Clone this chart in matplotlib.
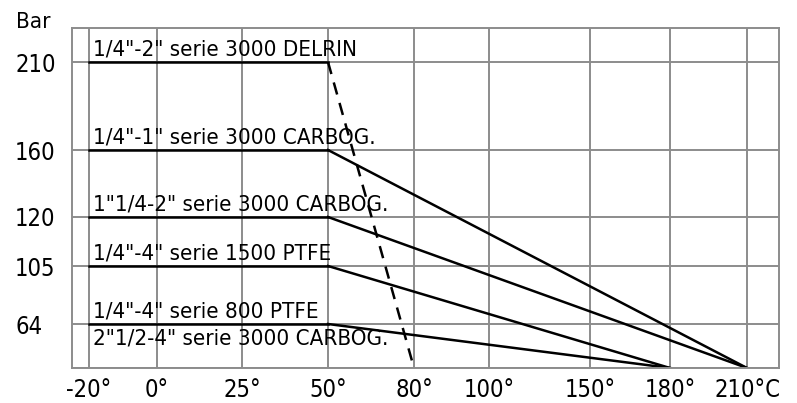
import numpy as np
import matplotlib
matplotlib.use('Agg')
import matplotlib.pyplot as plt

# axis ticks
temps = [-20, 0, 25, 50, 80, 100, 150, 180, 210]
temp_labels = ['-20°', '0°', '25°', '50°', '80°', '100°', '150°', '180°', '210°C']
pressures = [0, 64, 105, 120, 160, 210]
pressure_labels = ['', '64', '105', '120', '160', '210']

# curves: flat up to 50°C, then falling to 0 bar
curve_bar = [210, 160, 120, 105, 64]
flat_start = -20
flat_end = 50
zero_temp = [80, 210, 210, 180, 180]
dashed = [True, False, False, False, False]

series_labels = ['1/4"-2" serie 3000 DELRIN', '1/4"-1" serie 3000 CARBOG.',
                 '1"1/4-2" serie 3000 CARBOG.', '1/4"-4" serie 1500 PTFE',
                 '1/4"-4" serie 800 PTFE', '2"1/2-4" serie 3000 CARBOG.']
label_bar = [210, 160, 120, 105, 64, 64]
label_below = [False, False, False, False, False, True]

# the chart's axes are not linear: grid positions (px) of each tick
x_grid_px = [89, 157, 242, 328, 414, 489, 590, 670, 747]
y_grid_px = [0, 44, 102, 151, 218, 306]


def interp_ext(v, xp, fp):
    v = np.asarray(v, dtype=float)
    xp = np.asarray(xp, dtype=float)
    fp = np.asarray(fp, dtype=float)
    out = np.interp(v, xp, fp)
    lo = v < xp[0]
    hi = v > xp[-1]
    out = np.where(lo, fp[0] + (v - xp[0]) * (fp[1] - fp[0]) / (xp[1] - xp[0]), out)
    out = np.where(hi, fp[-1] + (v - xp[-1]) * (fp[-1] - fp[-2]) / (xp[-1] - xp[-2]), out)
    return out


plt.rcParams['font.family'] = ['DejaVu Sans']
plt.rcParams['font.stretch'] = 'condensed'

fig = plt.figure(figsize=(7.97, 4.03), dpi=100)
ax = fig.add_axes([72 / 797, 35 / 403, 707 / 797, 340 / 403])

ax.set_xscale('function', functions=(lambda v: interp_ext(v, temps, x_grid_px),
                                     lambda v: interp_ext(v, x_grid_px, temps)))
ax.set_yscale('function', functions=(lambda v: interp_ext(v, pressures, y_grid_px),
                                     lambda v: interp_ext(v, y_grid_px, pressures)))
ax.set_xlim(interp_ext(72, x_grid_px, temps), interp_ext(779, x_grid_px, temps))
ax.set_ylim(0, interp_ext(340, y_grid_px, pressures))

grid_col = '#8c8c8c'
ax.set_xticks(temps)
ax.set_xticklabels(temp_labels)
ax.set_yticks(pressures)
ax.set_yticklabels(pressure_labels)
ax.grid(True, color=grid_col, linewidth=1.4)
ax.set_axisbelow(True)
for s in ax.spines.values():
    s.set_color(grid_col)
    s.set_linewidth(1.4)
ax.tick_params(length=0, labelsize=17)
ax.tick_params(axis='x', pad=7)
ax.tick_params(axis='y', pad=41)
for t in ax.get_yticklabels():
    t.set_horizontalalignment('left')

for bar, t0, dash in zip(curve_bar, zero_temp, dashed):
    ax.plot([flat_start, flat_end], [bar, bar], color='black', linewidth=1.8)
    ax.plot([flat_end, t0], [bar, 0], color='black', linewidth=1.8,
            linestyle=(0, (5, 3.5)) if dash else '-')

for txt, bar, below in zip(series_labels, label_bar, label_below):
    ax.annotate(txt, xy=(flat_start, bar), xytext=(3, -3 if below else 2),
                textcoords='offset points', fontsize=16,
                va='top' if below else 'bottom', ha='left')

fig.text(16 / 797, 1 - 22 / 403, 'Bar', fontsize=16, va='center', ha='left')

fig.savefig('out.png', dpi=100)
